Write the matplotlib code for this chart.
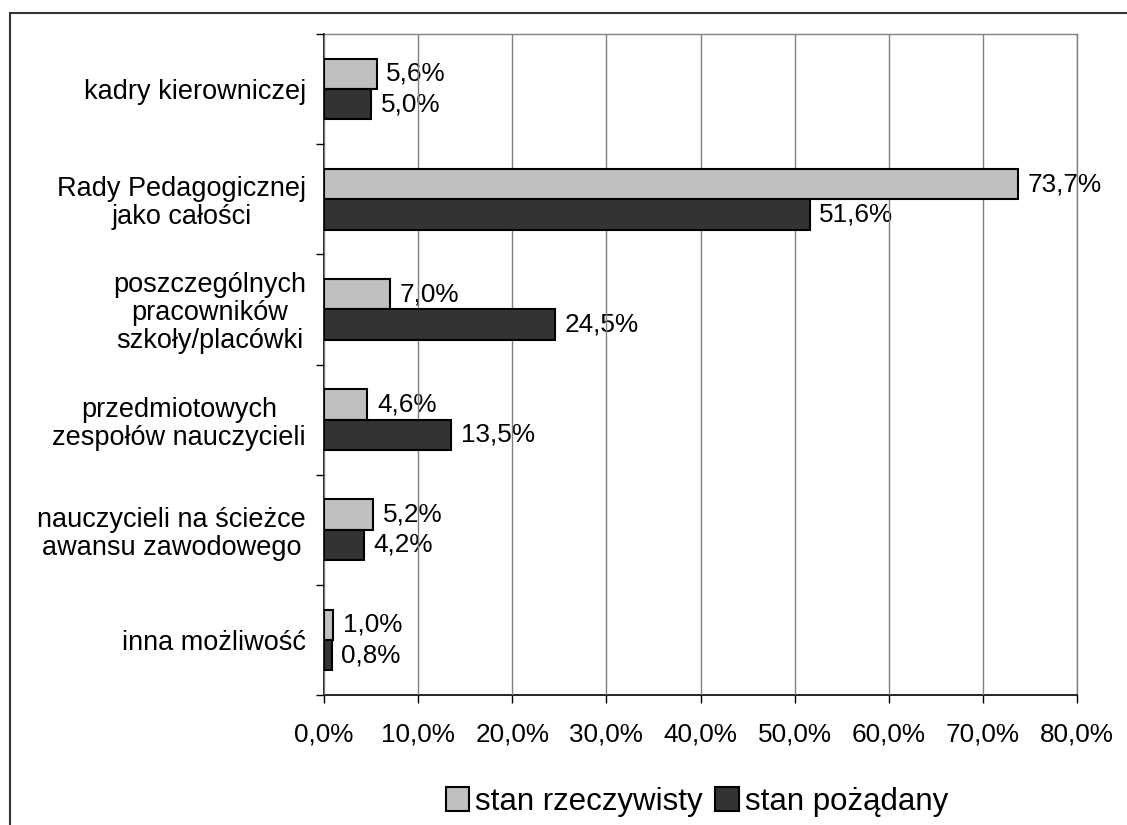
import numpy as np
import matplotlib.pyplot as plt
from matplotlib.patches import Rectangle

plt.rcParams['font.family'] = ['Liberation Sans', 'DejaVu Sans']

# --- data ---
categories = [
    "kadry kierowniczej",
    "Rady Pedagogicznej\njako całości",
    "poszczególnych\npracowników\nszkoły/placówki",
    "przedmiotowych\nzespołów nauczycieli",
    "nauczycieli na ścieżce\nawansu zawodowego",
    "inna możliwość",
]
stan_rzeczywisty = [5.6, 73.7, 7.0, 4.6, 5.2, 1.0]
stan_pozadany = [5.0, 51.6, 24.5, 13.5, 4.2, 0.8]
series_names = ["stan rzeczywisty", "stan pożądany"]
xticks = [0, 10, 20, 30, 40, 50, 60, 70, 80]

fs = 18.8
fig = plt.figure(figsize=(11.27, 8.25), dpi=100)
ax = fig.add_axes([324 / 1127, 1 - 695 / 825, (1077 - 324) / 1127, (695 - 34) / 825])

# outer chart frame (clipped at right/bottom like the source)
fig.patches.append(Rectangle((10 / 1127, -0.1), 1.2, 1 - 13 / 825 + 0.1,
                             transform=fig.transFigure, fill=False,
                             edgecolor='#333333', linewidth=1.5, zorder=0))

y = np.arange(len(categories))
h = 0.275
b1 = ax.barh(y - h / 2, stan_rzeczywisty, height=h, color='#c0c0c0',
             edgecolor='black', linewidth=1.5, label=series_names[0], zorder=3)
b2 = ax.barh(y + h / 2, stan_pozadany, height=h, color='#333333',
             edgecolor='black', linewidth=1.5, label=series_names[1], zorder=3)

for bars, vals in ((b1, stan_rzeczywisty), (b2, stan_pozadany)):
    for bar, v in zip(bars, vals):
        ax.annotate(f"{v:.1f}%".replace('.', ','),
                    (bar.get_width(), bar.get_y() + bar.get_height() / 2),
                    xytext=(7, 0), textcoords='offset points',
                    ha='left', va='center', fontsize=fs, zorder=2)

ax.set_xlim(0, 80)
ax.set_ylim(len(categories) - 0.5, -0.5)
ax.set_xticks(xticks)
ax.set_xticklabels([f"{t:.1f}%".replace('.', ',') for t in xticks], fontsize=fs)
ax.tick_params(axis='x', direction='out', length=6, width=1, pad=14)

ax.set_yticks(y)
ax.set_yticklabels(categories, fontsize=19.5, ha='right', multialignment='center',
                   linespacing=1.1)
ax.tick_params(axis='y', which='major', length=0, pad=13)
ax.set_yticks(np.arange(len(categories) + 1) - 0.5, minor=True)
ax.tick_params(axis='y', which='minor', direction='out', length=6, width=1)

ax.grid(axis='x', color='#808080', linewidth=1, zorder=4)
ax.set_axisbelow(False)
for s in ('top', 'right'):
    ax.spines[s].set_color('#808080')
    ax.spines[s].set_linewidth(1)
for s in ('left', 'bottom'):
    ax.spines[s].set_color('black')
    ax.spines[s].set_linewidth(1.2)

fig.legend(handles=[b1, b2], labels=series_names, loc='center',
           bbox_to_anchor=(697 / 1127, 1 - 802 / 825), ncol=2, frameon=False,
           fontsize=22.5, handlelength=0.75, handleheight=0.8, handletextpad=0.2,
           columnspacing=0.4, borderaxespad=0)

fig.savefig("out.png", dpi=100)
